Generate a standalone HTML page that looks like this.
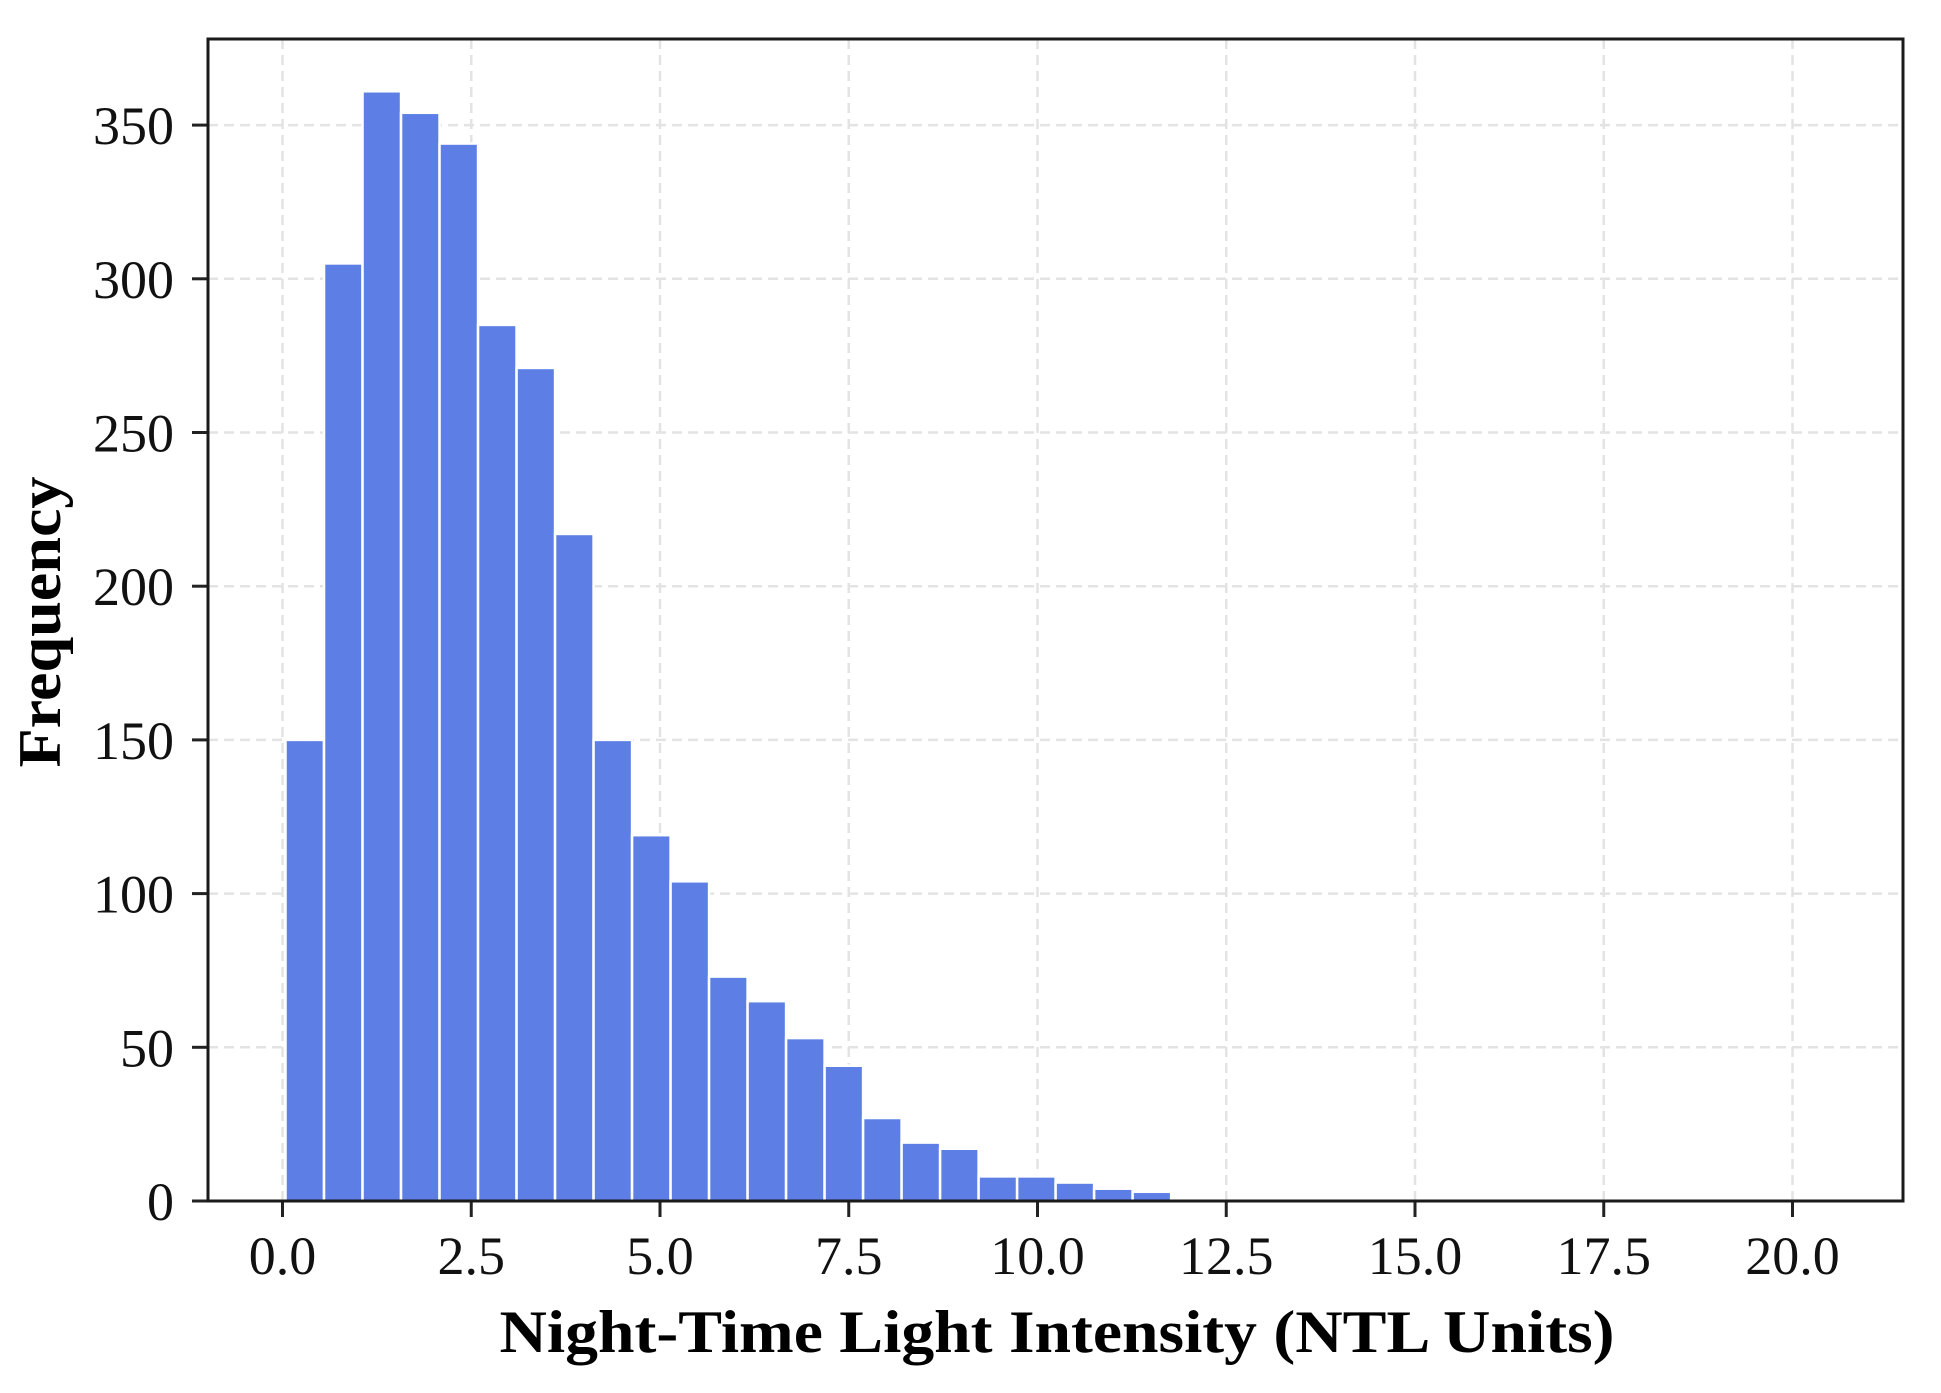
<!DOCTYPE html>
<html><head><meta charset="utf-8"><style>
html,body{margin:0;padding:0;background:#fff;}
svg{display:block;font-family:"Liberation Serif","DejaVu Serif",serif;}
</style></head><body>
<svg id="chart" width="1941" height="1393" viewBox="0 0 1941 1393" xmlns="http://www.w3.org/2000/svg">
<rect width="1941" height="1393" fill="#fff"/>
<g id="grid"></g>
<g id="bars"></g>
<g id="axes"></g>
<text x="1057" y="1352" text-anchor="middle" font-size="60" font-weight="bold" textLength="1115" lengthAdjust="spacingAndGlyphs">Night-Time Light Intensity (NTL Units)</text>
<text transform="translate(60,622) rotate(-90)" text-anchor="middle" font-size="60" font-weight="bold" textLength="291" lengthAdjust="spacingAndGlyphs">Frequency</text>
</svg>
<script>
const binStart = 0.04;
const binWidth = 0.51;
const counts = [150,305,361,354,344,285,271,217,150,119,104,73,65,53,44,27,19,17,8,8,6,4,3];
const xTicks = [0,2.5,5,7.5,10,12.5,15,17.5,20];
const xTickLabels = ["0.0","2.5","5.0","7.5","10.0","12.5","15.0","17.5","20.0"];
const yTicks = [0,50,100,150,200,250,300,350];
const yTickLabels = ["0","50","100","150","200","250","300","350"];

const L=208, R=1903, T=39, B=1201;
const xs = v => 282.5 + v*75.5;
const ys = v => 1201 - v*(153.7/50);
const NS="http://www.w3.org/2000/svg";
function mk(tag, attrs, parent){const e=document.createElementNS(NS,tag);for(const k in attrs)e.setAttribute(k,attrs[k]);parent.appendChild(e);return e;}
const grid=document.getElementById('grid'), bars=document.getElementById('bars'), axes=document.getElementById('axes');

xTicks.forEach((t,i)=>{
  const g=mk('line',{x1:xs(t),x2:xs(t),y1:T,y2:B,stroke:'#e3e3e3','stroke-width':2.5,'stroke-dasharray':'10,6'},grid);
  
  
  const tk=mk('line',{x1:xs(t),x2:xs(t),y1:B,y2:B+16,stroke:'#222','stroke-width':3},axes);
  
  
  const lb=mk('text',{x:xs(t),y:1274,'text-anchor':'middle','font-size':54,fill:'#111'},axes);
  lb.textContent=xTickLabels[i];
  
  
});
yTicks.forEach((t,i)=>{
  if(t>0){
    const g=mk('line',{x1:L,x2:R,y1:ys(t),y2:ys(t),stroke:'#e3e3e3','stroke-width':2.5,'stroke-dasharray':'10,6'},grid);
    
    
  }
  const tk=mk('line',{x1:L-16,x2:L,y1:ys(t),y2:ys(t),stroke:'#222','stroke-width':3},axes);
  
  
  const lb=mk('text',{x:174,y:ys(t)+19,'text-anchor':'end','font-size':54,fill:'#111'},axes);
  lb.textContent=yTickLabels[i];
  
  
});
counts.forEach((c,i)=>{
  const x0=xs(binStart+i*binWidth), x1=xs(binStart+(i+1)*binWidth);
  const b=mk('rect',{x:x0,y:ys(c),width:x1-x0,height:ys(0)-ys(c),fill:'#5d7fe5',stroke:'#fff','stroke-width':2.5},bars);
  
  
});
const fr=mk('rect',{x:L,y:T,width:R-L,height:B-T,fill:'none',stroke:'#1a1a1a','stroke-width':3},axes);


</script>
</body></html>
